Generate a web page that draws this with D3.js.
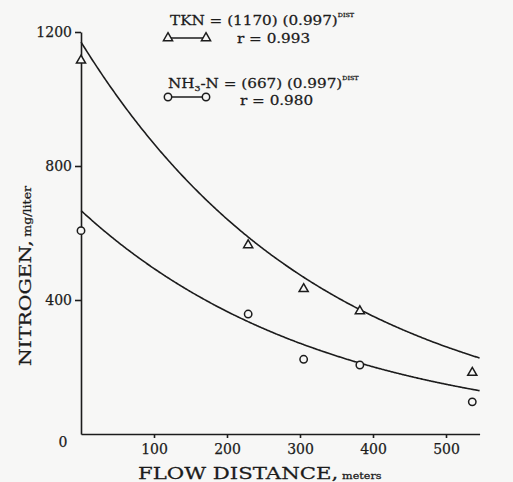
<!DOCTYPE html>
<html>
<head>
<meta charset="utf-8">
<script src="https://cdn.jsdelivr.net/npm/d3@7"></script>
<style>
  html, body { margin: 0; padding: 0; background: #f7f7f6; }
  svg { display: block; }
  text { font-family: "DejaVu Serif", "Liberation Serif", serif; fill: #1c1c1c;
         stroke: #1c1c1c; stroke-width: 0.25px; }
</style>
</head>
<body>
<svg id="chart" width="513" height="482"></svg>
<script>
// Flow distance (m) of each sampling station
const distance = [0, 229, 305, 382, 536];
// Measured nitrogen concentrations, mg/liter
const tkn = [1115, 564, 433, 367, 183];
const nh3n = [607, 358, 223, 206, 96];
// Fitted decay curves: N = a * b^DIST
const fitA = [1170, 667];
const fitB = [0.997, 0.997];
const fitR = ["0.993", "0.980"];
// Axis ticks
const xTicks = [100, 200, 300, 400, 500];
const yTicks = [400, 800, 1200];
const xMax = 546;

const svg = d3.select("#chart");
const ink = "#1c1c1c";
const paper = "#f7f7f6";

const x = d3.scaleLinear().domain([0, xMax]).range([81, 81 + xMax * 0.73]);
const y = d3.scaleLinear().domain([0, 1200]).range([434, 32]);

// Axes
const xAxis = svg.append("g")
  .attr("transform", `translate(0,${y(0)})`)
  .call(d3.axisBottom(x).tickValues(xTicks).tickFormat(d3.format("d"))
    .tickSize(4).tickSizeOuter(0).tickPadding(6));
const yAxis = svg.append("g")
  .attr("transform", `translate(${x(0)},0)`)
  .call(d3.axisLeft(y).tickValues(yTicks).tickFormat(d3.format("d"))
    .tickSize(6).tickSizeOuter(0).tickPadding(3));

[xAxis, yAxis].forEach(g => {
  g.selectAll("path, line").attr("stroke", ink).attr("stroke-width", 1.6);
  g.selectAll("text").attr("fill", ink).style("font-size", "14px")
    .style("font-family", '"DejaVu Serif", serif');
});

// Shared origin label
svg.append("text")
  .attr("x", x(0) - 18).attr("y", y(0) + 13)
  .attr("text-anchor", "middle").style("font-size", "14px").text("0");

// Wide-set text: draw at origin inside a horizontally stretched group
function wideText(tx, ty, rot, sx, size) {
  const g = svg.append("g")
    .attr("transform", `translate(${tx},${ty}) rotate(${rot}) scale(${sx},1)`);
  return g.append("text").attr("x", 0).attr("y", 0).style("font-size", size + "px");
}

// Axis titles
const xt = wideText(138, 479, 0, 1.25, 17);
xt.append("tspan").text("FLOW DISTANCE,");
xt.append("tspan").attr("dx", 3).style("font-size", "9px").text("meters");

const yt = wideText(31, 366, -90, 1.2, 17);
yt.append("tspan").text("NITROGEN,");
yt.append("tspan").attr("dx", 3).style("font-size", "10.5px").text("mg/liter");

// Fitted curves
const curveDist = d3.range(0, xMax + 0.5, 2);
const line = d3.line().x(d => x(d[0])).y(d => y(d[1])).curve(d3.curveBasis);
fitA.forEach((a, i) => {
  svg.append("path")
    .datum(curveDist.map(d => [d, a * Math.pow(fitB[i], d)]))
    .attr("d", line)
    .attr("fill", "none").attr("stroke", ink).attr("stroke-width", 1.6);
});

// Markers
const tri = d3.symbol().type(d3.symbolTriangle).size(36);
function triangle(g, cx, cy) {
  g.append("path").attr("d", tri()).attr("transform", `translate(${cx},${cy})`)
    .attr("fill", paper).attr("stroke", ink).attr("stroke-width", 1.5);
}
function circle(g, cx, cy) {
  g.append("circle").attr("cx", cx).attr("cy", cy).attr("r", 3.7)
    .attr("fill", paper).attr("stroke", ink).attr("stroke-width", 1.5);
}
const pts = svg.append("g");
distance.forEach((d, i) => {
  triangle(pts, x(d), y(tkn[i]));
  circle(pts, x(d), y(nh3n[i]));
});

// Legend
const leg = svg.append("g");
function equation(lx, ly, label, i) {
  const t = wideText(lx, ly, 0, 1.17, 13);
  label(t);
  t.append("tspan").text(` = (${fitA[i]}) (${fitB[i]})`);
  t.append("tspan").attr("dy", -8).style("font-size", "5.5px").text("DIST");
}
equation(170, 25, t => t.append("tspan").text("TKN"), 0);
leg.append("line").attr("x1", 168).attr("x2", 206).attr("y1", 38).attr("y2", 38)
  .attr("stroke", ink).attr("stroke-width", 1.4);
triangle(leg, 168, 38);
triangle(leg, 206, 38);
wideText(237, 43, 0, 1.17, 13).text(`r = ${fitR[0]}`);

equation(168, 88, t => {
  t.append("tspan").text("NH");
  t.append("tspan").attr("dy", 3).style("font-size", "8px").text("3");
  t.append("tspan").attr("dy", -3).text("-N");
}, 1);
leg.append("line").attr("x1", 168).attr("x2", 206).attr("y1", 97).attr("y2", 97)
  .attr("stroke", ink).attr("stroke-width", 1.4);
circle(leg, 168, 97);
circle(leg, 206, 97);
wideText(240, 105, 0, 1.17, 13).text(`r = ${fitR[1]}`);
</script>
</body>
</html>
